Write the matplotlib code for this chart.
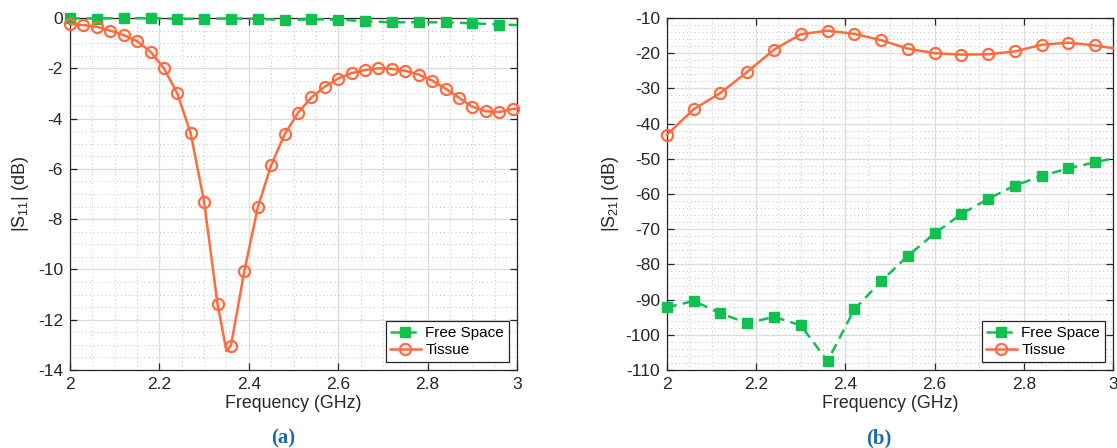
import numpy as np
import matplotlib
matplotlib.use("Agg")
import matplotlib.pyplot as plt
from matplotlib.ticker import MultipleLocator, FuncFormatter

plt.rcParams["font.family"] = ["Liberation Sans", "DejaVu Sans"]
plt.rcParams["axes.unicode_minus"] = False

# --- data ---
# S11 tissue: markers every 0.03 GHz, plus one unmarked point at the dip tip (2.35)
s11_tis_f = [2.00, 2.03, 2.06, 2.09, 2.12, 2.15, 2.18, 2.21, 2.24, 2.27, 2.30, 2.33,
             2.35, 2.36, 2.39, 2.42, 2.45, 2.48, 2.51, 2.54, 2.57, 2.60, 2.63, 2.66,
             2.69, 2.72, 2.75, 2.78, 2.81, 2.84, 2.87, 2.90, 2.93, 2.96, 2.99, 3.00]
s11_tis = [-0.24, -0.28, -0.35, -0.50, -0.68, -0.92, -1.34, -2.00, -3.00, -4.59, -7.32, -11.38,
           -13.25, -13.03, -10.06, -7.53, -5.85, -4.63, -3.77, -3.16, -2.73, -2.41, -2.19, -2.07,
           -2.00, -2.02, -2.10, -2.25, -2.49, -2.81, -3.17, -3.53, -3.71, -3.74, -3.62, -3.60]
s11_tis_mark = [f not in (2.35, 3.00) for f in s11_tis_f]

# S11 free space: markers every 0.06 GHz
s11_fs_f = [2.00, 2.06, 2.12, 2.18, 2.24, 2.30, 2.36, 2.42, 2.48, 2.54, 2.60, 2.66,
            2.72, 2.78, 2.84, 2.90, 2.96, 3.00]
s11_fs = [-0.01, -0.02, 0.00, -0.01, -0.03, -0.03, -0.02, -0.03, -0.08, -0.05, -0.06, -0.13,
          -0.17, -0.17, -0.17, -0.21, -0.26, -0.28]
s11_fs_mark = [f != 3.00 for f in s11_fs_f]

# S21
s21_f = [2.00, 2.06, 2.12, 2.18, 2.24, 2.30, 2.36, 2.42, 2.48, 2.54, 2.60, 2.66,
         2.72, 2.78, 2.84, 2.90, 2.96, 3.00]
s21_tis = [-43.2, -35.9, -31.3, -25.3, -19.0, -14.6, -13.6, -14.5, -16.3, -18.7, -20.0, -20.4,
           -20.3, -19.5, -17.6, -17.0, -17.8, -18.6]
s21_fs = [-92.2, -90.4, -93.9, -96.7, -94.9, -97.3, -107.5, -92.8, -84.8, -77.6, -71.2, -65.7,
          -61.4, -57.6, -54.9, -52.7, -51.0, -49.9]
s21_mark = [f != 3.00 for f in s21_f]

green = "#12c04f"
orange = "#ff6b3f"
txt = "#262626"

fig = plt.figure(figsize=(11.17, 4.48), dpi=100)
ax1 = fig.add_axes([0.0627, 0.1741, 0.4002, 0.7857])
ax2 = fig.add_axes([0.5971, 0.1741, 0.3993, 0.7857])


def style(ax, ymin, ymax, ymaj, ymin_step):
    ax.set_xlim(2, 3)
    ax.set_ylim(ymin, ymax)
    ax.xaxis.set_major_locator(MultipleLocator(0.2))
    ax.xaxis.set_minor_locator(MultipleLocator(0.05))
    ax.yaxis.set_major_locator(MultipleLocator(ymaj))
    ax.yaxis.set_minor_locator(MultipleLocator(ymin_step))
    ax.xaxis.set_major_formatter(FuncFormatter(lambda v, p: "%g" % round(v, 2)))
    ax.grid(True, which="major", color="#dcdcdc", lw=0.9, ls="-")
    ax.grid(True, which="minor", color="#c0c0c0", lw=0.7, ls=(0, (1, 3)))
    ax.set_axisbelow(True)
    ax.tick_params(which="major", direction="in", length=5, top=True, right=True,
                   labelsize=12.5, colors=txt, width=0.9, pad=5)
    ax.tick_params(which="minor", length=0, top=True, right=True)
    for s in ax.spines.values():
        s.set_color(txt)
        s.set_linewidth(0.9)
    ax.set_xlabel("Frequency (GHz)", fontsize=12.8, color=txt, labelpad=2)


style(ax1, -14, 0, 2, 0.5)
ax1.plot(s11_fs_f, s11_fs, color=green, lw=1.8, ls=(0, (4, 2.5)), marker="s", ms=6.5,
         markevery=s11_fs_mark, clip_on=False, zorder=5, label="Free Space")
ax1.plot(s11_tis_f, s11_tis, color=orange, lw=1.8, marker="o", ms=8, mfc="none", mew=1.6,
         markevery=s11_tis_mark, clip_on=False, zorder=6, label="Tissue")
ax1.set_ylabel("|S$_\\mathregular{11}$| (dB)", fontsize=13, color=txt, labelpad=5)

style(ax2, -110, -10, 10, 2)
ax2.plot(s21_f, s21_fs, color=green, lw=1.8, ls=(0, (4, 2.5)), marker="s", ms=6.5,
         markevery=s21_mark, clip_on=False, zorder=5, label="Free Space")
ax2.plot(s21_f, s21_tis, color=orange, lw=1.8, marker="o", ms=8, mfc="none", mew=1.6,
         markevery=s21_mark, clip_on=False, zorder=6, label="Tissue")
ax2.set_ylabel("|S$_\\mathregular{21}$| (dB)", fontsize=13, color=txt, labelpad=3)

for ax in (ax1, ax2):
    leg = ax.legend(loc="lower right", fontsize=11, frameon=True, fancybox=False,
                    borderaxespad=0.55, handlelength=2.0, handletextpad=0.3,
                    borderpad=0.3, labelspacing=0.2, framealpha=1)
    leg.get_frame().set_edgecolor(txt)
    leg.get_frame().set_linewidth(0.9)

fig.text(0.2535, 0.022, "(a)", fontsize=15, fontweight="bold", color="#1c6aa6",
         family="Liberation Serif", ha="center", va="center")
fig.text(0.787, 0.022, "(b)", fontsize=15, fontweight="bold", color="#1c6aa6",
         family="Liberation Serif", ha="center", va="center")

fig.savefig("out.png", dpi=100)
